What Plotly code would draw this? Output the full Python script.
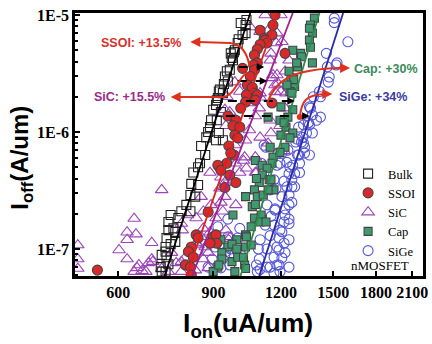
import math
import plotly.graph_objects as go

# ---------------- data (Ion in uA/um, Ioff in A/um) ----------------
bulk_x = [1032, 1011, 1036, 1019, 1032, 998, 1002, 986, 982, 969, 978, 973, 965, 953, 945, 957, 941,
          925, 921, 937, 917, 913, 910, 899, 929, 891, 913, 887, 880, 921, 873, 910, 937, 854, 869,
          850, 843, 826, 819, 843, 816, 833, 802, 785, 816, 750, 775, 759, 743, 765, 743, 737, 765,
          750, 734, 734, 722, 737, 743, 719, 734, 722]
bulk_y = [8.2e-6, 8.54e-6, 9.06e-6, 6.75e-6, 7.0e-6, 5.77e-6, 6.2e-6, 5.0e-6, 4.8e-6, 4.7e-6, 4.1e-6,
          4.3e-6, 3.4e-6, 3.3e-6, 2.98e-6, 2.7e-6, 2.57e-6, 2.3e-6, 2.22e-6, 2.15e-6, 1.95e-6, 1.87e-6,
          1.7e-6, 1.55e-6, 1.48e-6, 1.26e-6, 1.26e-6, 1.1e-6, 1.0e-6, 9.8e-7, 9.0e-7, 8.5e-7, 8.5e-7,
          7.6e-7, 6.36e-7, 5.4e-7, 5.0e-7, 4.5e-7, 3.6e-7, 3.52e-7, 2.89e-7, 2.8e-7, 2.38e-7, 2.1e-7,
          2.1e-7, 1.95e-7, 1.84e-7, 1.5e-7, 1.7e-7, 1.4e-7, 1.45e-7, 1.24e-7, 1.15e-7, 1.1e-7, 1.04e-7,
          9.5e-8, 8.9e-8, 8.5e-8, 7.4e-8, 7.0e-8, 6.4e-8, 6.4e-8]

ssoi_x = [1170, 1160, 1098, 1155, 1117, 1122, 1131, 1098, 1085, 1221, 1072, 1085, 1068, 1019, 1072,
          1053, 1040, 1062, 1072, 1085, 1036, 1076, 1032, 1155, 1011, 957, 990, 978, 1007, 986, 998,
          961, 982, 969, 953, 917, 929, 965, 990, 945, 880, 836, 843, 899, 910, 913, 887, 819, 809,
          826, 799, 816, 819, 549]
ssoi_y = [1.0e-5, 8.2e-6, 7.4e-6, 6.75e-6, 6.3e-6, 6.1e-6, 5.77e-6, 5.6e-6, 5.1e-6, 4.7e-6, 4.55e-6,
          3.9e-6, 3.74e-6, 3.5e-6, 3.4e-6, 2.98e-6, 2.52e-6, 2.4e-6, 2.15e-6, 2.07e-6, 2.07e-6, 1.87e-6,
          1.8e-6, 1.77e-6, 1.6e-6, 1.37e-6, 1.26e-6, 1.13e-6, 1.1e-6, 9.4e-7, 8.9e-7, 7.6e-7, 6.36e-7,
          6.6e-7, 5.4e-7, 5.2e-7, 4.7e-7, 4.29e-7, 3.7e-7, 3.35e-7, 2.07e-7, 1.32e-7, 1.24e-7, 1.27e-7,
          1.32e-7, 1.12e-7, 1.12e-7, 1.04e-7, 9.5e-8, 8.5e-8, 7.3e-8, 7.0e-8, 6.0e-8, 6.6e-8]

sic_x = [505, 505, 505, 722, 642, 623, 647, 623, 602, 692, 623, 655, 642, 692, 675, 695, 650, 664, 683,
         1122, 1200, 1098, 1180, 1053, 1136, 1205, 1175, 1150, 1146, 1242, 1221, 1180, 1160, 1155,
         1185, 1170, 986, 1007, 953, 1170, 1200, 1226, 1098, 1098, 945, 965, 1053, 1094, 1076, 1146,
         1221, 949, 1049, 1032, 1098, 1195, 1150, 1136, 1216, 1023, 1036, 1076, 986, 1028, 990, 1007,
         1076, 887, 929, 945, 925, 945, 990, 929, 891, 862, 937, 910, 836, 862, 887, 854, 899, 836,
         869, 880, 862, 799, 768, 833, 880, 785, 753, 788, 806, 785, 854, 949, 969, 941, 1081, 843,
         722, 743, 785]
sic_y = [1.08e-7, 8.2e-8, 6.8e-8, 3.2e-7, 1.82e-7, 1.39e-7, 1.34e-7, 1.2e-7, 9.8e-8, 1.13e-7, 8.2e-8,
         7.3e-8, 6.4e-8, 8.2e-8, 6.4e-8, 7.8e-8, 6.9e-8, 6.5e-8, 7.6e-8,
         1.0e-5, 1.0e-5, 7.2e-6, 7.0e-6, 7.9e-6, 7.4e-6, 5.9e-6, 5.77e-6, 4.7e-6, 4.1e-6, 4.1e-6,
         3.3e-6, 3.07e-6, 3.07e-6, 2.9e-6, 2.6e-6, 2.52e-6, 2.67e-6, 2.22e-6, 2.0e-6, 2.2e-6, 2.22e-6,
         2.15e-6, 2.15e-6, 1.98e-6, 1.55e-6, 1.48e-6, 1.77e-6, 1.6e-6, 1.37e-6, 1.26e-6, 1.6e-6,
         1.13e-6, 1.04e-6, 8.5e-7, 9.0e-7, 1.13e-6, 9.8e-7, 8.0e-7, 6.9e-7, 5.7e-7, 4.9e-7, 6.1e-7,
         7.74e-7, 6.1e-7, 5.4e-7, 4.5e-7, 4.5e-7, 4.5e-7, 4.1e-7, 3.7e-7, 3.3e-7, 2.8e-7, 2.38e-7,
         2.5e-7, 2.38e-7, 2.1e-7, 2.1e-7, 1.84e-7, 1.84e-7, 1.5e-7, 1.39e-7, 1.27e-7, 1.17e-7, 1.12e-7,
         1.04e-7, 9.3e-8, 8.2e-8, 8.5e-8, 7.6e-8, 6.6e-8, 6.9e-8, 6.4e-8, 9.3e-8, 1.45e-7, 1.95e-7,
         1.65e-7, 2.8e-7, 1.45e-7, 1.27e-7, 3.4e-7, 4.5e-7, 1.08e-7, 6.8e-8, 6.4e-8, 7.8e-8]

cap_x = [1384, 1361, 1372, 1355, 1361, 1262, 1305, 1372, 1288, 1252, 1272, 1247, 1200, 1262, 1236,
         1195, 1136, 1226, 1262, 1200, 1221, 1146, 1160, 1076, 1108, 1355, 1310, 1283, 1242, 1267,
         1231, 1257, 1216, 1247, 1195, 1155, 1131, 1108, 1141, 1094, 1072, 1165, 1032, 1085, 1062,
         1072, 1108, 978, 1032, 929, 957, 1032, 933, 974, 917, 1028, 899, 986, 998, 1113, 1076, 1136,
         1103, 1098, 1126, 1057, 1036, 994, 974, 1057, 994, 933, 1023, 1032, 921, 1081, 1150]
cap_y = [9.4e-6, 8.2e-6, 7.0e-6, 6.1e-6, 5.3e-6, 5.0e-6, 4.7e-6, 3.9e-6, 3.6e-6, 2.9e-6, 2.45e-6,
         2.22e-6, 1.64e-6, 1.55e-6, 1.34e-6, 1.26e-6, 1.34e-6, 1.1e-6, 9.8e-7, 9.4e-7, 7.4e-7, 7.4e-7,
         6.1e-7, 5.7e-7, 5.2e-7, 7.7e-6, 4.4e-6, 3.9e-6, 3.3e-6, 2.8e-6, 2.52e-6, 2.15e-6, 1.2e-6,
         8.9e-7, 6.7e-7, 5.4e-7, 4.9e-7, 4.29e-7, 3.9e-7, 3.7e-7, 3.2e-7, 3.2e-7, 2.8e-7, 2.8e-7,
         2.3e-7, 1.84e-7, 1.8e-7, 1.95e-7, 1.32e-7, 1.2e-7, 1.04e-7, 1.04e-7, 9.3e-8, 7.8e-8, 7.0e-8,
         7.3e-8, 6.4e-8, 6.4e-8, 8.5e-8, 2.89e-7, 2.4e-7, 3.2e-7, 1.95e-7, 1.7e-7, 1.7e-7, 1.55e-7,
         1.27e-7, 1.2e-7, 1.1e-7, 1.08e-7, 1.0e-7, 8.2e-8, 8.5e-8, 6.8e-8, 7.3e-8, 4.0e-7, 3.9e-7]

sige_x = [1506, 1596, 1524, 1462, 1474, 1420, 1361, 1372, 1420, 1349, 1372, 1316, 1278, 1327, 1288,
          1355, 1126, 1185, 1236, 1195, 1103, 1262, 1506, 1456, 1518, 1468, 1414, 1378, 1355, 1396,
          1355, 1321, 1294, 1338, 1283, 1310, 1117, 1205, 1231, 1180, 1117, 1242, 1165, 1216, 1257,
          1146, 1205, 1242, 1131, 1170, 1221, 1085, 1165, 1122, 1242, 1205, 1146, 1098, 1242, 1180,
          1131, 1221, 1165, 1094, 1190, 1131, 1242, 1085, 1165, 1011, 998, 1007, 957, 917, 957, 945,
          965, 929, 895, 880, 843, 906, 1321, 1327, 1294, 1299, 1247, 1272, 1299, 1257, 1231, 1272,
          1242, 1257, 1221, 1242, 1216, 1195, 1190, 1216, 1190, 1205, 1180, 1195, 1175, 1170, 1150,
          1090, 953, 969, 949, 1081, 1146, 1098]
sige_y = [9.4e-6, 5.9e-6, 3.9e-6, 3.6e-6, 2.95e-6, 2.0e-6, 1.6e-6, 1.4e-6, 1.34e-6, 1.2e-6, 9.8e-7,
          9.0e-7, 8.2e-7, 7.4e-7, 6.36e-7, 6.36e-7, 7.4e-7, 6.6e-7, 7.0e-7, 5.4e-7, 5.4e-7, 5.2e-7,
          8.6e-6, 4.7e-6, 3.74e-6, 2.67e-6, 2.22e-6, 2.0e-6, 1.64e-6, 1.26e-6, 1.15e-6, 1.15e-6,
          1.1e-6, 9.8e-7, 8.7e-7, 8.2e-7, 7.7e-7, 6.6e-7, 5.5e-7, 5.2e-7, 4.5e-7, 4.4e-7, 3.9e-7,
          3.8e-7, 3.4e-7, 3.2e-7, 2.8e-7, 2.38e-7, 2.38e-7, 2.15e-7, 1.95e-7, 1.8e-7, 1.6e-7, 1.6e-7,
          1.65e-7, 1.4e-7, 1.3e-7, 1.2e-7, 1.2e-7, 1.04e-7, 1.0e-7, 9.3e-8, 8.5e-8, 8.2e-8, 7.3e-8,
          7.0e-8, 7.0e-8, 6.4e-8, 6.2e-8, 8.9e-8, 1.24e-7, 1.5e-7, 1.8e-7, 1.55e-7, 1.27e-7, 8.9e-8,
          7.3e-8, 6.9e-8, 8.2e-8, 7.0e-8, 9.8e-8, 1.04e-7, 8.0e-7, 6.6e-7, 6.36e-7, 5.4e-7, 5.0e-7,
          4.4e-7, 4.5e-7, 3.9e-7, 3.4e-7, 3.4e-7, 2.89e-7, 2.5e-7, 2.2e-7, 1.8e-7, 1.7e-7, 1.45e-7,
          1.24e-7, 1.12e-7, 9.8e-8, 8.4e-8, 7.3e-8, 6.4e-8, 3.3e-7, 2.2e-7, 1.9e-7, 1.0e-7, 1.2e-7,
          1.0e-7, 9.5e-8, 7.3e-8, 7.0e-8, 6.7e-8]

# linear fits (drawn between bottom and top of the plot)
fit_y = [5.87e-8, 1.04e-5]
bulk_fit_x = [731, 1053]
ssoi_fit_x = [802, 1185]
sic_fit_x = [822, 1262]
cap_fit_x = [1010, 1414]
sige_fit_x = [1094, 1564]

series_names = ["Bulk", "SSOI", "SiC", "Cap", "SiGe"]
x_ticks = [600, 900, 1200, 1500, 1800, 2100]
y_ticks = [1e-7, 1e-6, 1e-5]
y_tick_text = ["1E-7", "1E-6", "1E-5"]
gains = ["SSOI: +13.5%", "SiC: +15.5%", "Cap: +30%", "SiGe: +34%"]

# ---------------- styles ----------------
C_BULK, C_SSOI, C_SIC, C_CAP, C_SIGE = "#222222", "#d9292b", "#9b45b8", "#3f9a72", "#5558d6"
L_BULK, L_SSOI, L_SIC, L_CAP, L_SIGE = "#000000", "#e01e1e", "#a0208e", "#2e8a48", "#2a2aa6"

fig = go.Figure()

def add_pts(x, y, name, symbol, color, size, rank):
    fig.add_trace(go.Scatter(
        x=x, y=y, mode="markers", name=name, legendrank=rank,
        marker=dict(symbol=symbol, size=size, color=color, line=dict(width=1.1)),
    ))

add_pts(sige_x, sige_y, series_names[4], "circle-open", C_SIGE, 10, 5)
add_pts(sic_x, sic_y, series_names[2], "triangle-up-open", C_SIC, 11, 3)
add_pts(bulk_x, bulk_y, series_names[0], "square-open", C_BULK, 9, 1)
add_pts(cap_x, cap_y, series_names[3], "square", C_CAP, 8, 4)
add_pts(ssoi_x, ssoi_y, series_names[1], "circle", C_SSOI, 10, 2)

for fx, col in [(bulk_fit_x, L_BULK), (ssoi_fit_x, L_SSOI), (sic_fit_x, L_SIC),
                (cap_fit_x, L_CAP), (sige_fit_x, L_SIGE)]:
    fig.add_trace(go.Scatter(x=fx, y=fit_y, mode="lines", showlegend=False,
                             line=dict(color=col, width=1.8), hoverinfo="skip"))

# ---------------- layout geometry ----------------
W, H = 432, 344
ML, MR, MT, MB = 75, 4, 13, 68
PW, PH = W - ML - MR, H - MT - MB

def px(x):
    return (x - ML) / PW

def py(y):
    return (H - MB - y) / PH

shapes = []
annotations = []

def path(pts, color, width=2, dash="solid"):
    d = "M " + " L ".join(f"{px(a):.4f},{py(b):.4f}" for a, b in pts)
    shapes.append(dict(type="path", path=d, xref="paper", yref="paper",
                       line=dict(color=color, width=width, dash=dash)))

def cpath(start, segs, color, width=2):
    d = f"M {px(start[0]):.4f},{py(start[1]):.4f}"
    for s in segs:
        if len(s) == 1:
            d += f" L {px(s[0][0]):.4f},{py(s[0][1]):.4f}"
        else:
            d += " C " + " ".join(f"{px(a):.4f},{py(b):.4f}" for a, b in s)
    shapes.append(dict(type="path", path=d, xref="paper", yref="paper",
                       line=dict(color=color, width=width)))

def head(x, y, dx, color, width=2, size=1.0):
    annotations.append(dict(x=px(x), y=py(y), xref="paper", yref="paper", text="",
                            showarrow=True, arrowhead=2, arrowsize=size, arrowwidth=width,
                            arrowcolor=color, ax=dx, ay=0))

def text_at(x, y, txt, font, angle=0, yanchor="middle"):
    annotations.append(dict(x=px(x), y=py(y), xref="paper", yref="paper", text=txt,
                            showarrow=False, xanchor="center", yanchor=yanchor,
                            textangle=angle, font=font))

def label(x, y, txt, color):
    text_at(x, y, txt, dict(family="Liberation Sans", size=12.5, color=color, weight="bold"))

ARROW = "#e0301e"
# dashed black arrows
for (x0, x1, yy) in [(241, 264, 67), (240, 267, 81), (230, 295, 101), (228, 310, 116)]:
    path([(x0, yy), (x1, yy)], "black", width=2, dash="dash")
    head(x1 + 3, yy, -6, "black", width=1.5, size=1.0)

# SSOI arrow
cpath((252, 66), [[(250, 55), (245, 44), (232, 43)], [(200, 42)]], ARROW)
head(192, 42, 10, ARROW)
label(142, 43, gains[0], "#d8302c")
# SiC arrow
cpath((250, 72), [[(240, 78), (237, 96), (225, 97)], [(180, 97)]], ARROW)
head(172, 97, 10, ARROW)
label(130, 97, gains[1], "#9a2a8c")
# Cap arrow
cpath((270, 103), [[(278, 80), (295, 69), (345, 68)]], ARROW)
head(354, 68, -10, ARROW)
label(390, 69, gains[2], "#3a8a5a")
# SiGe arrow
cpath((303, 117), [[(305, 100), (310, 95), (328, 94)]], ARROW)
head(336, 94, -10, ARROW)
label(377, 97, gains[3], "#3a3aa0")
shapes.append(dict(type="circle", xref="paper", yref="paper",
                   x0=px(300), x1=px(306), y0=py(114), y1=py(120),
                   fillcolor=ARROW, line=dict(width=0)))

# nMOSFET label under legend
text_at(384, 265, "nMOSFET", dict(family="Liberation Serif", size=13, color="black"))
# axis titles
text_at(250, 344, "I<sub>on</sub>(uA/um)",
        dict(family="Liberation Sans", size=26.5, color="black", weight="bold"),
        yanchor="bottom")
text_at(21, 158, "I<sub>off</sub>(A/um)",
        dict(family="Liberation Sans", size=24, color="black", weight="bold"), angle=-90)

minor_vals = [m * 10 ** e for e in (-8, -7, -6) for m in range(2, 10)]

tickfont = dict(family="Liberation Serif", size=16, color="black", weight="bold")
fig.update_layout(
    width=W, height=H, margin=dict(l=ML, r=MR, t=MT, b=MB),
    paper_bgcolor="white", plot_bgcolor="white",
    showlegend=True,
    legend=dict(x=px(352), y=py(159), xanchor="left", yanchor="top",
                bgcolor="rgba(0,0,0,0)", font=dict(family="Liberation Serif", size=12.5,
                                                    color="black"),
                itemwidth=30, tracegroupgap=0),
    xaxis=dict(type="log", range=[math.log10(499), math.log10(2198)],
               tickvals=x_ticks, ticktext=[str(v) for v in x_ticks],
               ticks="inside", ticklen=5, tickwidth=2, tickcolor="black",
               showline=True, linecolor="black", linewidth=2.5, mirror=True,
               showgrid=False, zeroline=False, tickfont=tickfont),
    yaxis=dict(type="log", range=[-7.231, -4.983],
               tickvals=y_ticks, ticktext=y_tick_text,
               ticks="inside", ticklen=5, tickwidth=2, tickcolor="black",
               minor=dict(tickvals=minor_vals, ticks="inside", ticklen=3, tickwidth=1.5,
                          tickcolor="black", showgrid=False),
               showline=True, linecolor="black", linewidth=2.5, mirror=True,
               showgrid=False, zeroline=False, tickfont=tickfont),
    shapes=shapes, annotations=annotations,
)

fig.write_html("out.html")
